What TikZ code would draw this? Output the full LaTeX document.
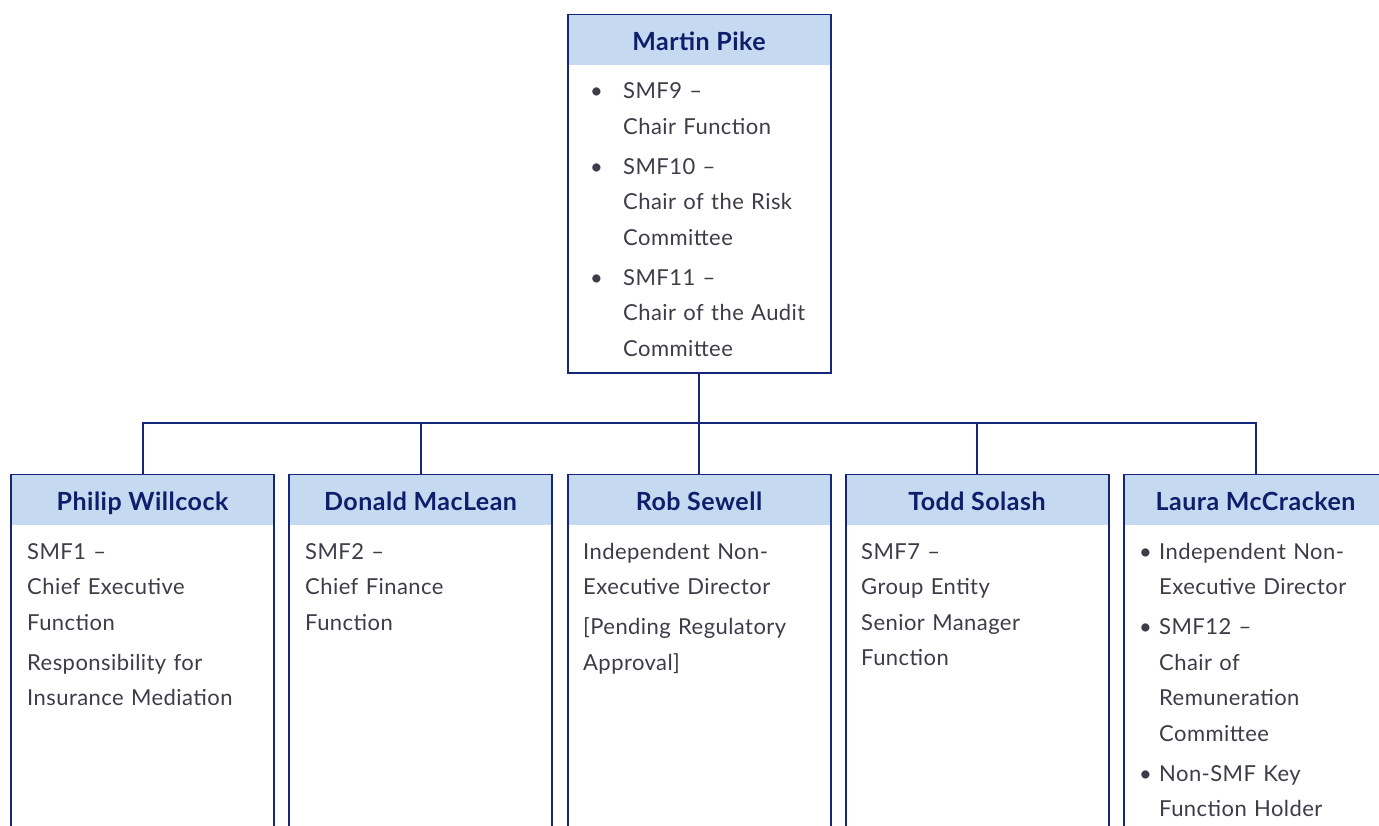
\documentclass[tikz,border=0pt]{standalone}
\usepackage{fontspec}
\setmainfont{Lato}[LetterSpace=2]
\usetikzlibrary{positioning}

\definecolor{marino}{RGB}{22,38,125}
\definecolor{celeste}{RGB}{197,217,241}
\definecolor{tinta}{RGB}{14,30,107}
\definecolor{gris}{RGB}{60,61,72}

\tikzset{
  caja/.style={draw=marino, line width=2pt, fill=white, minimum width=263pt, inner sep=0pt},
  cabecera/.style={fill=celeste, minimum width=261pt, minimum height=50pt, inner sep=0pt,
    text height=21pt, text depth=0pt, text=tinta, font=\fontsize{25}{28}\selectfont\bfseries},
  texto/.style={anchor=base west, inner sep=0pt, text width=250pt, align=left, text=gris,
    font=\fontsize{22}{35.5}\selectfont},
  vineta/.style={anchor=base west, inner sep=0pt, text=gris, font=\fontsize{22}{35.5}\selectfont},
  linea/.style={draw=marino, line width=2pt},
}

\begin{document}
\begin{tikzpicture}[x=1pt, y=-1pt]
  \useasboundingbox (0,0) rectangle (1379,826);
  \clip (0,0) rectangle (1379,826);

  % Caja superior
  \node[caja, minimum height=358pt, anchor=north] (pike) at (699,14) {};
  \node[cabecera, anchor=north] (pikecab) at ([yshift=-1pt]pike.north) {Martin Pike};
  \node[texto] (piketxt) at (623,99) {SMF9 –\\ Chair Function\\[4.5pt]
    SMF10 –\\ Chair of the Risk\\ Committee\\[4.5pt]
    SMF11 –\\ Chair of the Audit\\ Committee};
  \foreach \y [count=\i] in {99,174.5,285.5}
    \node[vineta] (pikev\i) at (590,\y) {\textbullet};

  % Cajas de abajo
  \node[caja, minimum height=430pt, anchor=north] (willcock) at (142.5,474) {};
  \node[caja, minimum height=430pt, anchor=north] (maclean) at (420.5,474) {};
  \node[caja, minimum height=430pt, anchor=north] (sewell) at (699,474) {};
  \node[caja, minimum height=430pt, anchor=north] (solash) at (977,474) {};
  \node[caja, minimum height=430pt, anchor=north] (mccracken) at (1255.5,474) {};

  % Cabeceras
  \node[cabecera, anchor=north] (willcockcab) at ([yshift=-1pt]willcock.north) {Philip Willcock};
  \node[cabecera, anchor=north] (macleancab) at ([yshift=-1pt]maclean.north) {Donald MacLean};
  \node[cabecera, anchor=north] (sewellcab) at ([yshift=-1pt]sewell.north) {Rob Sewell};
  \node[cabecera, anchor=north] (solashcab) at ([yshift=-1pt]solash.north) {Todd Solash};
  \node[cabecera, anchor=north] (mccrackencab) at ([yshift=-1pt]mccracken.north) {Laura McCracken};

  % Textos
  \node[texto] (willcocktxt) at (27,559) {SMF1 –\\ Chief Executive\\ Function\\[4.5pt]
    Responsibility for\\ Insurance Mediation};
  \node[texto] (macleantxt) at (305,559) {SMF2 –\\ Chief Finance\\ Function};
  \node[texto] (sewelltxt) at (583,559) {Independent Non-\\ Executive Director\\[4.5pt]
    [Pending Regulatory\\ Approval]};
  \node[texto] (solashtxt) at (861,559) {SMF7 –\\ Group Entity\\ Senior Manager\\ Function};
  \node[texto] (mccrackentxt) at (1159,559) {Independent Non-\\ Executive Director\\[4.5pt]
    SMF12 –\\ Chair of\\ Remuneration\\ Committee\\[4.5pt]
    Non-SMF Key\\ Function Holder};
  \foreach \y [count=\i] in {559,634.5,781}
    \node[vineta] (mccrackenv\i) at (1139,\y) {\textbullet};

  % Conectores
  \coordinate (bus) at (699,423);
  \draw[linea] (pike.south) -- (sewell.north);
  \draw[linea] (willcock.north) |- (bus) -| (mccracken.north);
  \draw[linea] (maclean.north) -- (maclean.north |- bus);
  \draw[linea] (solash.north) -- (solash.north |- bus);
\end{tikzpicture}
\end{document}
